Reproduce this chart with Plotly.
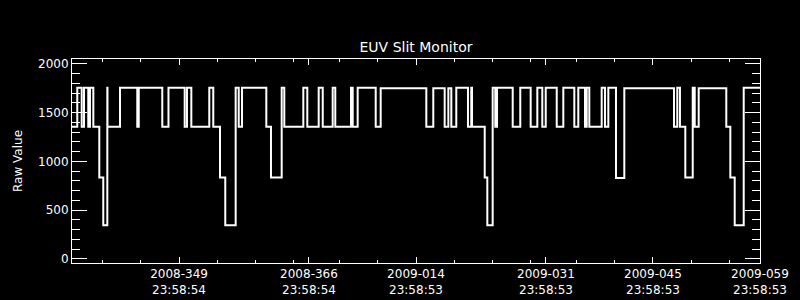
import pandas as pd
import plotly.graph_objects as go

# ---- data ----
start_time = "2008-11-30 23:58:54"   # 2008-335 23:58:54
end_time = "2009-02-28 23:58:53"     # 2009-059 23:58:53

# elapsed days from start at which each level begins
seg_days = [0.00, 0.69, 1.27, 1.57, 2.13, 2.35, 2.79, 3.57, 4.09, 4.62,
            4.64, 6.28, 8.54, 8.73, 11.81, 12.62, 14.74, 15.04, 15.61, 17.96,
            18.48, 19.36, 20.05, 21.41, 21.81, 22.24, 25.42, 26.03, 27.43, 27.77,
            30.26, 30.78, 32.27, 32.80, 34.10, 34.44, 36.50, 36.72, 37.37, 39.73,
            40.38, 46.35, 47.26, 48.75, 49.23, 49.62, 50.27, 51.80, 52.23, 52.33,
            53.99, 54.33, 55.03, 55.37, 55.60, 57.65, 58.64, 60.00, 60.87, 61.52,
            61.97, 63.41, 64.27, 65.71, 66.23, 67.11, 67.33, 67.67, 69.29, 69.72,
            70.16, 71.16, 72.25, 78.75, 79.18, 79.53, 80.23, 81.20, 81.46, 81.98,
            85.59, 86.12, 86.69, 87.87, 90.00]

seg_values = [1355, 1755, 1355, 1755, 1355, 1755, 1355, 835, 345, 1755,
              1355, 1755, 1355, 1755, 1355, 1755, 1355, 1755, 1355, 1755,
              1355, 835, 345, 1755, 1355, 1755, 1355, 835, 1755, 1355,
              1755, 1355, 1755, 1355, 1755, 1355, 1755, 1355, 1755, 1355,
              1750, 1355, 1750, 1355, 1750, 1355, 1755, 1355, 1755, 1355,
              835, 345, 1755, 1355, 1755, 1355, 1755, 1355, 1755, 1355,
              1755, 1355, 1755, 1355, 1755, 1355, 1755, 1355, 1755, 1355,
              1755, 830, 1750, 1355, 1755, 1355, 835, 1755, 1355, 1750,
              1355, 835, 345, 1755, 1755]

tick_dates = ["2008-12-14 23:58:54", "2008-12-31 23:58:54", "2009-01-14 23:58:53",
              "2009-01-31 23:58:53", "2009-02-14 23:58:53", "2009-02-28 23:58:53"]
tick_labels = ["2008-349<br>23:58:54", "2008-366<br>23:58:54", "2009-014<br>23:58:53",
               "2009-031<br>23:58:53", "2009-045<br>23:58:53", "2009-059<br>23:58:53"]
minor_dates = ["2008-12-04 23:58:54", "2008-12-09 23:58:54", "2008-12-19 23:58:54",
               "2008-12-24 23:58:54", "2008-12-29 23:58:54", "2009-01-04 23:58:54",
               "2009-01-09 23:58:54", "2009-01-19 23:58:54", "2009-01-24 23:58:54",
               "2009-01-29 23:58:54", "2009-02-04 23:58:54", "2009-02-09 23:58:54",
               "2009-02-19 23:58:54", "2009-02-24 23:58:54"]

# ---- build ----
t0 = pd.Timestamp(start_time)
times = [t0 + pd.Timedelta(days=d) for d in seg_days]

FONT = "DejaVu Sans"
fig = go.Figure()
fig.add_trace(go.Scatter(x=times, y=seg_values, mode="lines",
                         line=dict(color="white", width=2, shape="hv"),
                         hoverinfo="skip", showlegend=False))

fig.update_layout(
    width=800, height=300,
    paper_bgcolor="black", plot_bgcolor="black",
    margin=dict(l=72, r=40, t=59, b=37, autoexpand=False),
    font=dict(family=FONT, color="white", size=12),
    title=dict(text="EUV Slit Monitor", x=0.52, xanchor="center",
               y=0.843, yanchor="middle", font=dict(size=14, family=FONT, color="white")),
    showlegend=False,
)
fig.update_xaxes(
    type="date", range=[start_time, end_time], automargin=False,
    tickmode="array", tickvals=tick_dates, ticktext=tick_labels,
    ticks="inside", ticklen=6, tickwidth=1, tickcolor="white",
    showline=True, linecolor="white", linewidth=1, mirror="ticks",
    showgrid=False, zeroline=False,
    tickfont=dict(size=12, family=FONT, color="white"),
    minor=dict(tickmode="array", tickvals=minor_dates, ticks="inside",
               ticklen=3, tickcolor="white", tickwidth=1, showgrid=False),
)
fig.update_yaxes(
    range=[-43, 2051], automargin=False,
    tickmode="linear", tick0=0, dtick=500,
    ticks="inside", ticklen=15, tickwidth=1, tickcolor="white",
    showline=True, linecolor="white", linewidth=1, mirror="ticks",
    showgrid=False, zeroline=False,
    tickfont=dict(size=12, family=FONT, color="white"),
    minor=dict(dtick=100, ticks="inside", ticklen=8, tickcolor="white",
               tickwidth=1, showgrid=False),
)
fig.add_annotation(text="Raw Value", textangle=-90, xref="paper", yref="paper",
                   x=-0.0785, y=0.5, xanchor="center", yanchor="middle",
                   showarrow=False, font=dict(size=12, family=FONT, color="white"))

fig.write_html("out.html")
